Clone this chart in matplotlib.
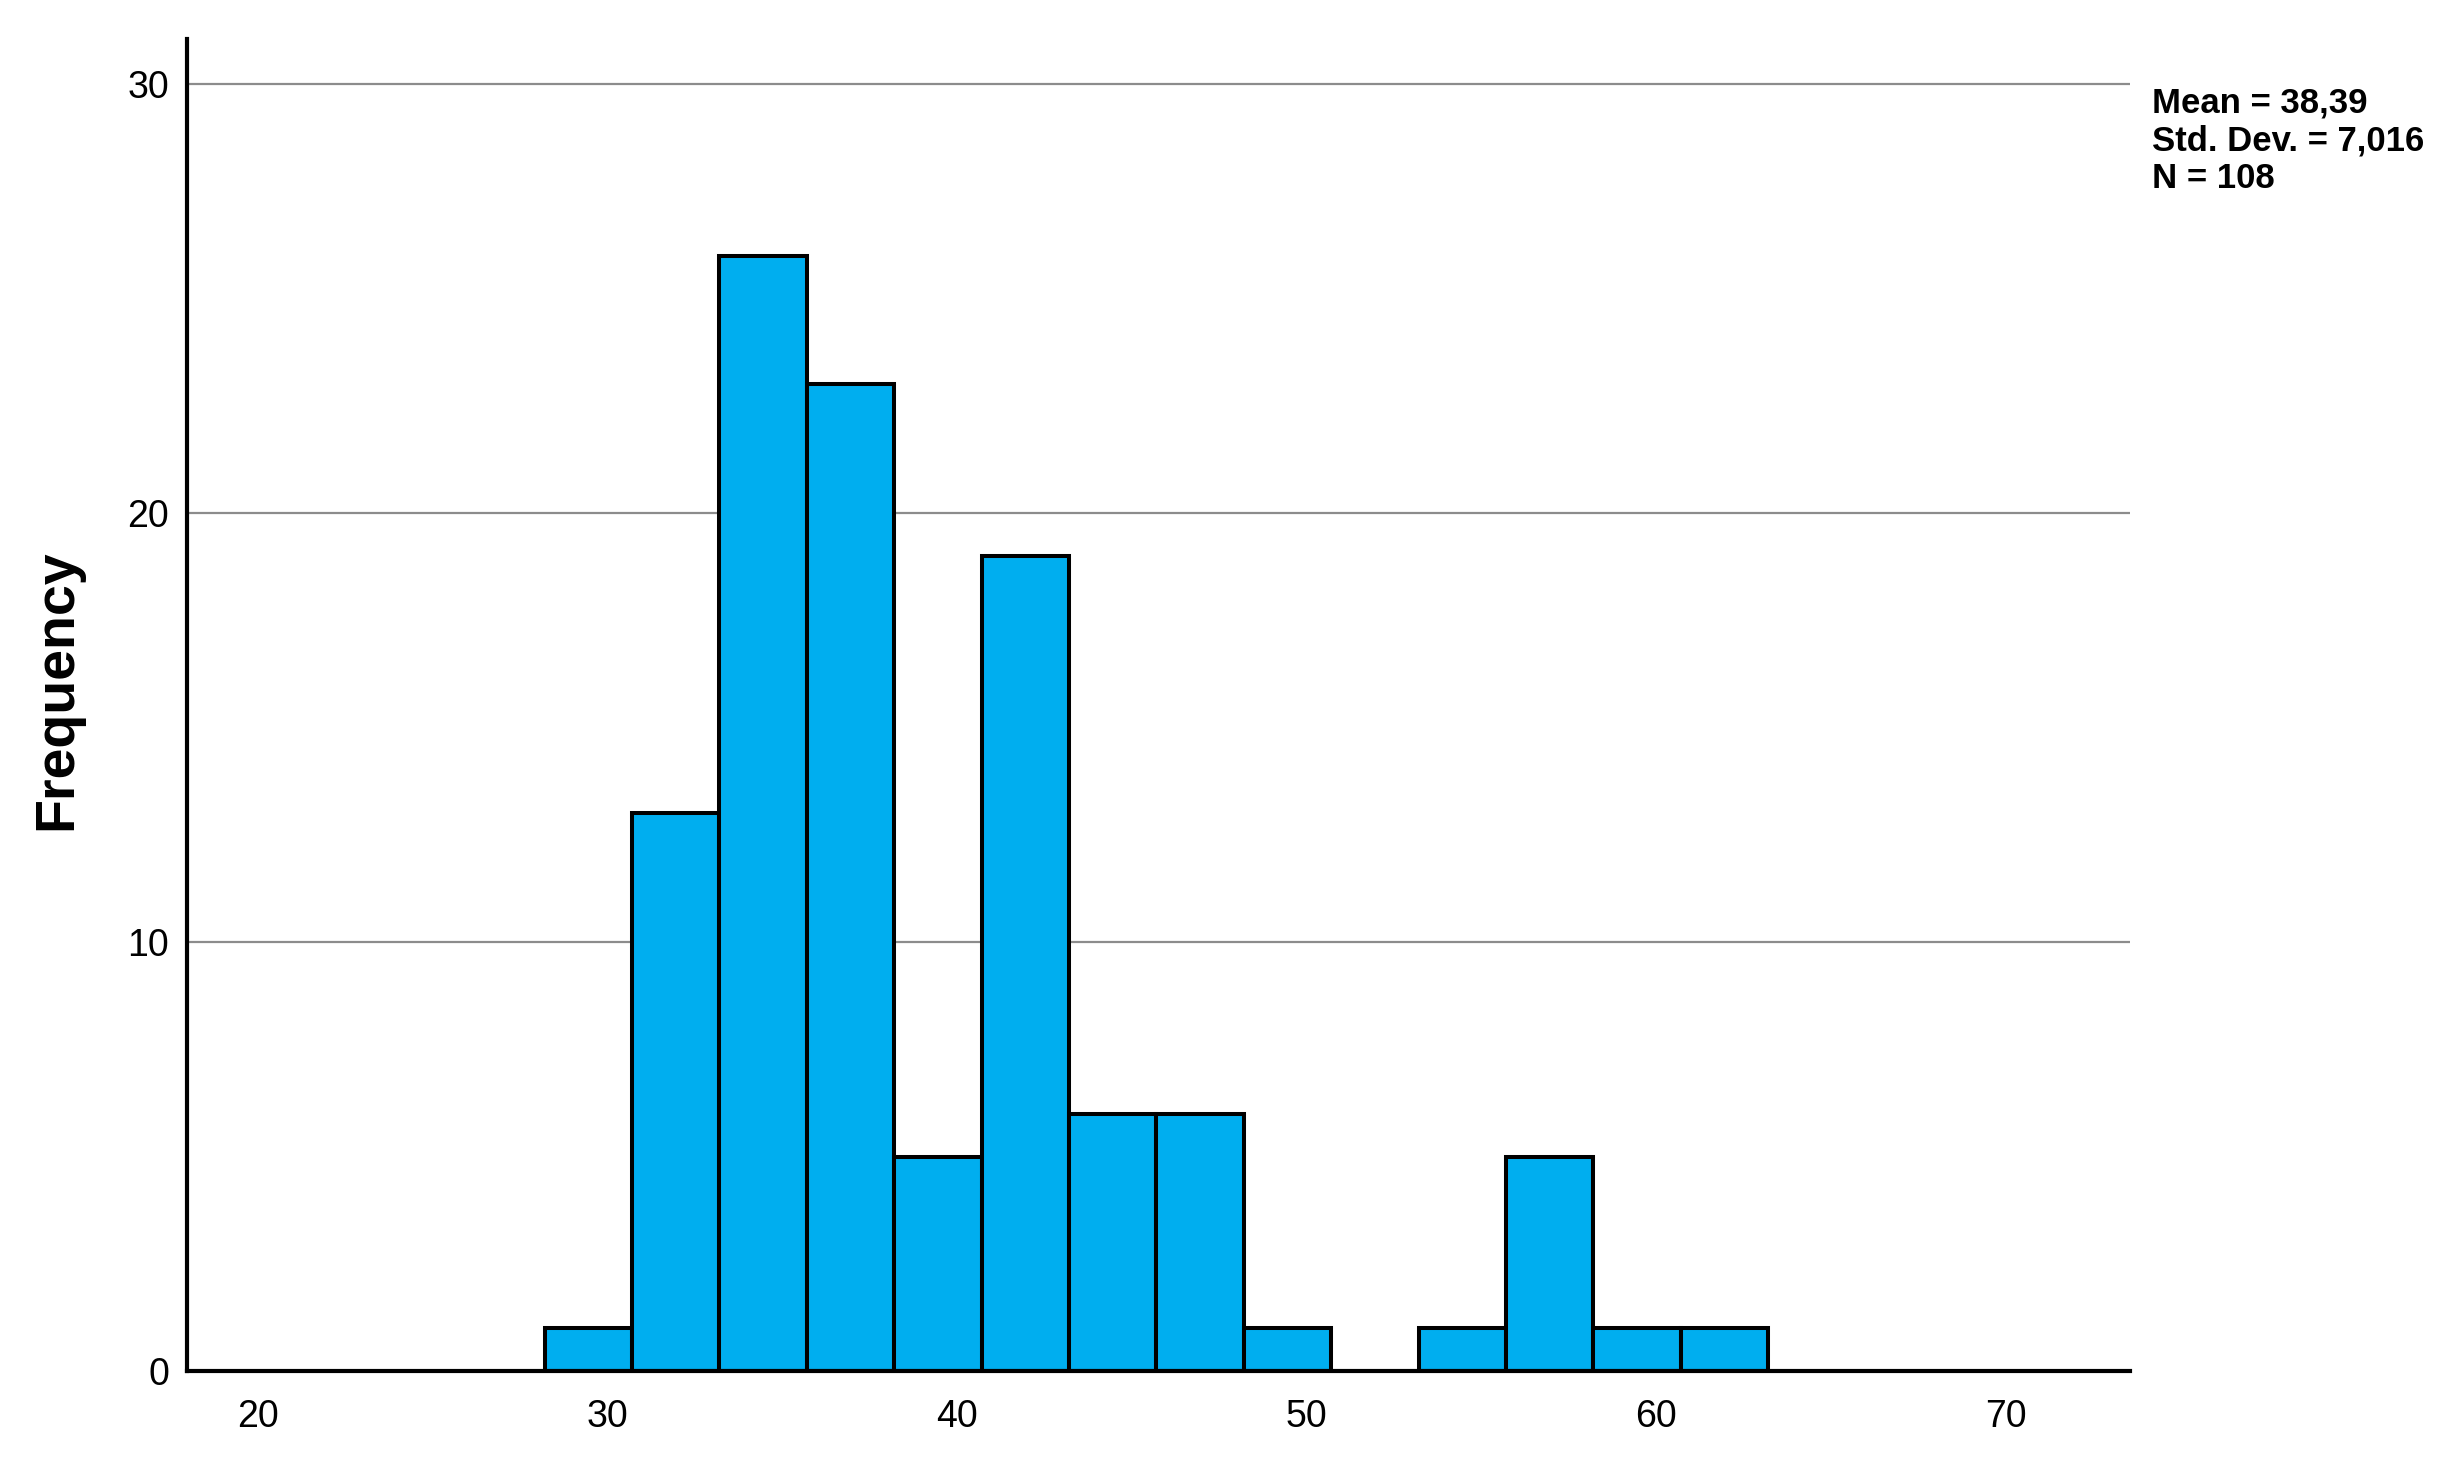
import numpy as np
import matplotlib.pyplot as plt
from matplotlib import rcParams

# histogram
bin_edges = [28.2, 30.7, 33.2, 35.7, 38.2, 40.7, 43.2, 45.7, 48.2, 50.7, 53.2, 55.7, 58.2, 60.7, 63.2]
counts = [1, 13, 26, 23, 5, 19, 6, 6, 1, 0, 1, 5, 1, 1]
x_ticks = [20, 30, 40, 50, 60, 70]
y_ticks = [0, 10, 20, 30]
stats_text = 'Mean = 38,39\nStd. Dev. = 7,016\nN = 108'

rcParams['font.family'] = 'Liberation Sans'

fig = plt.figure(figsize=(24.53, 14.64), dpi=100)
ax = fig.add_axes([187/2453, 93/1464, (2130-187)/2453, (1371-39)/1464])

lefts = np.array(bin_edges[:-1])
widths = np.diff(bin_edges)
heights = np.array(counts)
keep = heights > 0
ax.bar(lefts[keep], heights[keep], width=widths[keep], align='edge',
       color='#00AEEF', edgecolor='black', linewidth=2.9, zorder=3)

ax.set_xlim(17.97, 73.55)
ax.set_ylim(0, 31.05)
ax.set_xticks(x_ticks)
ax.set_yticks(y_ticks)
for y in y_ticks[1:]:
    ax.axhline(y, color='#8c8c8c', linewidth=1.6, zorder=1)

for side in ['top', 'right']:
    ax.spines[side].set_visible(False)
ax.spines['left'].set_linewidth(3)
ax.spines['bottom'].set_linewidth(3)
ax.spines['bottom'].set_zorder(4)
ax.tick_params(axis='both', length=0, labelsize=27)
ax.tick_params(axis='x', pad=20)
ax.tick_params(axis='y', pad=13)

fig.text(57/2453, 1 - 690/1464, 'Frequency', rotation=90, ha='center', va='center',
         fontsize=40, fontweight='bold')
fig.text(2152/2453, 1 - 87/1464, stats_text, ha='left', va='top',
         fontsize=25, fontweight='bold', linespacing=1.18)

plt.savefig('out.png', dpi=100)
